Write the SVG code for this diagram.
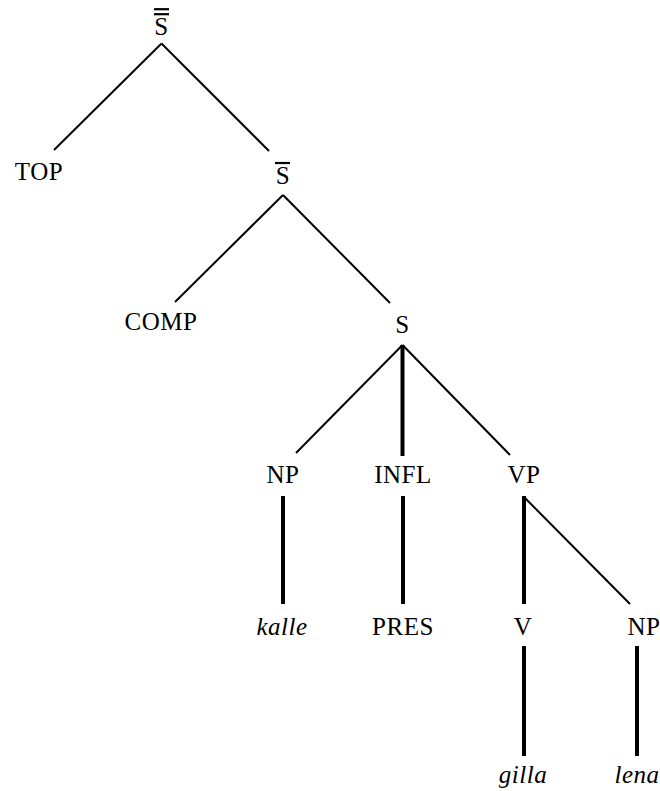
<svg xmlns="http://www.w3.org/2000/svg" width="660" height="791" viewBox="0 0 660 791">
  <style>
    .lbl { font-family: "Liberation Serif", "Times New Roman", serif; font-size: 25px; fill: #000; text-anchor: middle; letter-spacing: 0.5px; }
    .it { font-style: italic; }
    .edge { stroke: #000; stroke-width: 2; fill: none; stroke-linecap: butt; }
    .stem { stroke: #000; stroke-width: 4; fill: none; }
    .bar { stroke: #000; stroke-width: 2.2; }
  </style>
  <rect width="660" height="791" fill="#fff"/>

  <g id="connectors">
    <line class="edge" x1="161.5" y1="43.5" x2="54" y2="150"/>
    <line class="edge" x1="161.5" y1="43.5" x2="269" y2="151"/>
    <line class="edge" x1="283" y1="195" x2="175" y2="302"/>
    <line class="edge" x1="283" y1="195" x2="390" y2="303"/>
    <line class="edge" x1="402.5" y1="345" x2="296" y2="453"/>
    <line class="stem" x1="402.5" y1="345" x2="402.5" y2="456"/>
    <line class="edge" x1="402.5" y1="345" x2="510" y2="455"/>
    <line class="stem" x1="283" y1="496" x2="283" y2="604"/>
    <line class="stem" x1="403" y1="496" x2="403" y2="604"/>
    <line class="stem" x1="524" y1="496" x2="524" y2="604"/>
    <line class="edge" x1="525" y1="498" x2="630" y2="604"/>
    <line class="stem" x1="524" y1="646" x2="524" y2="756"/>
    <line class="stem" x1="637" y1="646" x2="637" y2="756"/>
  </g>

  <g id="sbarbar">
    <line class="bar" x1="154" y1="9.2" x2="169" y2="9.2"/>
    <line class="bar" x1="154" y1="14.2" x2="169" y2="14.2"/>
    <text class="lbl" x="161.5" y="35">S</text>
  </g>
  <g id="top"><text class="lbl" x="39" y="180">TOP</text></g>
  <g id="sbar">
    <line class="bar" x1="275" y1="163" x2="290" y2="163"/>
    <text class="lbl" x="283" y="184">S</text>
  </g>
  <g id="comp"><text class="lbl" x="161" y="330">COMP</text></g>
  <g id="s"><text class="lbl" x="402.5" y="333">S</text></g>
  <g id="np1"><text class="lbl" x="283" y="483">NP</text></g>
  <g id="infl"><text class="lbl" x="403" y="483">INFL</text></g>
  <g id="vp"><text class="lbl" x="524" y="483">VP</text></g>
  <g id="kalle"><text class="lbl it" x="282" y="635">kalle</text></g>
  <g id="pres"><text class="lbl" x="403" y="635">PRES</text></g>
  <g id="v"><text class="lbl" x="523" y="635">V</text></g>
  <g id="np2"><text class="lbl" x="644" y="635">NP</text></g>
  <g id="gilla"><text class="lbl it" x="523" y="783">gilla</text></g>
  <g id="lena"><text class="lbl it" x="637" y="783">lena</text></g>
</svg>
